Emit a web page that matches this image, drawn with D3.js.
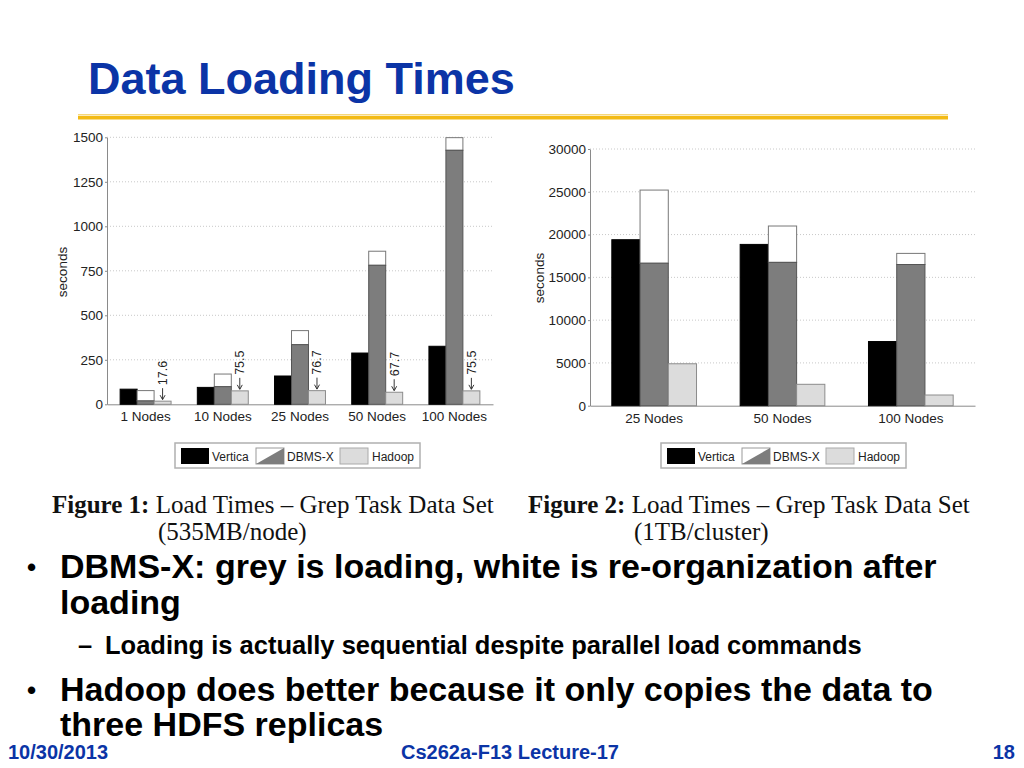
<!DOCTYPE html>
<html>
<head>
<meta charset="utf-8">
<script src="https://cdn.jsdelivr.net/npm/d3@7"></script>
<style>
body { margin: 0; background: #fff; }
svg { display: block; }
</style>
</head>
<body>
<div id="slide"></div>
<script>
// Figure 1: grep task, 535MB/node
var nodes1 = ["1 Nodes", "10 Nodes", "25 Nodes", "50 Nodes", "100 Nodes"];
var vertica1 = [85, 95, 159, 288, 326];
var dbmsLoad1 = [19, 99, 335, 781, 1427];
var dbmsReorg1 = [58, 71, 79, 79, 71];
var hadoop1 = [17.6, 75.5, 76.7, 67.7, 75.5];
var ticks1 = [0, 250, 500, 750, 1000, 1250, 1500];

// Figure 2: grep task, 1TB/cluster
var nodes2 = ["25 Nodes", "50 Nodes", "100 Nodes"];
var vertica2 = [19400, 18850, 7500];
var dbmsLoad2 = [16650, 16750, 16500];
var dbmsReorg2 = [8550, 4250, 1300];
var hadoop2 = [4900, 2500, 1250];
var ticks2 = [0, 5000, 10000, 15000, 20000, 25000, 30000];

var systems = ["Vertica", "DBMS-X", "Hadoop"];

var sans = "'Liberation Sans', Arial, Helvetica, sans-serif";
var serif = "'Liberation Serif', 'Times New Roman', serif";
var blue = "#0b34a6";

var svg = d3.select("#slide").append("svg")
    .attr("width", 1024).attr("height", 768)
    .style("font-family", sans);

// ---- title ----
svg.append("text")
    .attr("x", 88).attr("y", 94)
    .attr("font-size", 45).attr("font-weight", "bold")
    .attr("fill", blue)
    .text("Data Loading Times");

svg.append("rect").attr("x", 78).attr("y", 114).attr("width", 870).attr("height", 1.5).attr("fill", "#f6d77a");
svg.append("rect").attr("x", 78).attr("y", 116).attr("width", 870).attr("height", 3.5).attr("fill", "#f3ba14");

// ---- charts ----
function loadChart(o) {
    var g = svg.append("g");
    var rows = o.nodes.map((n, i) => ({
        node: n, vertica: o.vertica[i], load: o.load[i], reorg: o.reorg[i], hadoop: o.hadoop[i]
    }));

    var x = d3.scaleBand()
        .domain(o.nodes)
        .range([o.left, o.right])
        .paddingInner(0.34)
        .paddingOuter(0.17);
    var sx = d3.scaleBand().domain(systems).range([0, x.bandwidth()]);
    var y = d3.scaleLinear().domain([0, d3.max(o.ticks)]).range([o.bottom, o.top]);

    // dotted grid
    g.append("g").selectAll("line").data(o.ticks.slice(1)).join("line")
        .attr("x1", o.left).attr("x2", o.right)
        .attr("y1", d => y(d)).attr("y2", d => y(d))
        .attr("stroke", "#c8c8c8")
        .attr("stroke-dasharray", "1,2");

    g.append("g")
        .attr("transform", `translate(${o.left},0)`)
        .call(d3.axisLeft(y).tickValues(o.ticks).tickFormat(d3.format("d"))
            .tickSizeInner(2).tickSizeOuter(0).tickPadding(2))
        .call(a => a.selectAll("path,line").attr("stroke", "#8a8a8a"))
        .call(a => a.selectAll("text").attr("font-size", 13.5).attr("font-family", sans).attr("fill", "#222"));

    g.append("g")
        .attr("transform", `translate(0,${o.bottom})`)
        .call(d3.axisBottom(x).tickSize(0).tickPadding(7.6))
        .call(a => a.select(".domain").attr("stroke", "#8a8a8a"))
        .call(a => a.selectAll("text").attr("font-size", 13.5).attr("font-family", sans).attr("fill", "#222"));

    var grp = g.append("g").selectAll("g").data(rows).join("g")
        .attr("transform", d => `translate(${x(d.node)},0)`);

    grp.append("rect")
        .attr("x", sx("Vertica")).attr("width", sx.bandwidth())
        .attr("y", d => y(d.vertica)).attr("height", d => y(0) - y(d.vertica))
        .attr("fill", "#000").attr("stroke", "#000");

    grp.append("rect")
        .attr("x", sx("DBMS-X")).attr("width", sx.bandwidth())
        .attr("y", d => y(d.load + d.reorg)).attr("height", d => y(d.load) - y(d.load + d.reorg))
        .attr("fill", "#fff").attr("stroke", "#777");

    grp.append("rect")
        .attr("x", sx("DBMS-X")).attr("width", sx.bandwidth())
        .attr("y", d => y(d.load)).attr("height", d => y(0) - y(d.load))
        .attr("fill", "#7d7d7d").attr("stroke", "#555");

    grp.append("rect")
        .attr("x", sx("Hadoop")).attr("width", sx.bandwidth())
        .attr("y", d => y(d.hadoop)).attr("height", d => y(0) - y(d.hadoop))
        .attr("fill", "#dcdcdc").attr("stroke", "#8c8c8c");

    if (o.arrows) {
        var cx = sx("Hadoop") + sx.bandwidth() / 2;
        grp.append("line")
            .attr("x1", cx).attr("x2", cx)
            .attr("y1", d => y(d.hadoop) - 13).attr("y2", d => y(d.hadoop) - 2)
            .attr("stroke", "#222").attr("stroke-width", 0.9);
        grp.append("path")
            .attr("d", d => `M${cx - 2.5},${y(d.hadoop) - 6}L${cx},${y(d.hadoop) - 1.5}L${cx + 2.5},${y(d.hadoop) - 6}`)
            .attr("fill", "none").attr("stroke", "#222").attr("stroke-width", 0.9);
        grp.append("text")
            .attr("transform", d => `translate(${cx + 4.5},${y(d.hadoop) - 16}) rotate(-90)`)
            .attr("font-size", 12.5).attr("fill", "#222")
            .text(d => d3.format(".1f")(d.hadoop));
    }

    g.append("text")
        .attr("transform", `translate(${o.labelX},${o.labelY}) rotate(-90)`)
        .attr("text-anchor", "middle")
        .attr("font-size", 13.5).attr("fill", "#222")
        .text("seconds");

    legend(o.legendX, 443);
}

function legend(x0, y0) {
    var g = svg.append("g").attr("transform", `translate(${x0},${y0})`);
    g.append("rect").attr("width", 245).attr("height", 25)
        .attr("fill", "#fff").attr("stroke", "#b0b0b0").attr("stroke-width", 1.5);
    var sw = [6, 81, 165];
    var tx = [37, 112, 197];
    // vertica
    g.append("rect").attr("x", sw[0]).attr("y", 5).attr("width", 28).attr("height", 16).attr("fill", "#000");
    // dbms-x: white over grey, split on the diagonal
    g.append("rect").attr("x", sw[1]).attr("y", 5).attr("width", 28).attr("height", 16)
        .attr("fill", "#fff").attr("stroke", "#999");
    g.append("path").attr("d", `M${sw[1]},21L${sw[1] + 28},5L${sw[1] + 28},21Z`).attr("fill", "#7d7d7d");
    // hadoop
    g.append("rect").attr("x", sw[2]).attr("y", 5).attr("width", 28).attr("height", 16)
        .attr("fill", "#dcdcdc").attr("stroke", "#aaa");
    g.selectAll("text.lg").data(systems).join("text")
        .attr("class", "lg")
        .attr("x", (d, i) => tx[i]).attr("y", 17.5)
        .attr("font-size", 12).attr("fill", "#222")
        .text(d => d);
}

loadChart({
    nodes: nodes1, vertica: vertica1, load: dbmsLoad1, reorg: dbmsReorg1, hadoop: hadoop1,
    ticks: ticks1, left: 107, right: 493, top: 137.3, bottom: 404.3,
    arrows: true, labelX: 67, labelY: 272, legendX: 175
});

loadChart({
    nodes: nodes2, vertica: vertica2, load: dbmsLoad2, reorg: dbmsReorg2, hadoop: hadoop2,
    ticks: ticks2, left: 590, right: 975, top: 149, bottom: 405.7,
    arrows: false, labelX: 544, labelY: 278, legendX: 661
});

// ---- figure captions ----
function caption(x, num, sub) {
    var t = svg.append("text").attr("x", x).attr("y", 513)
        .attr("font-family", serif).attr("font-size", 25).attr("fill", "#111");
    t.append("tspan").attr("font-weight", "bold").text("Figure " + num + ":");
    t.append("tspan").text(" Load Times \u2013 Grep Task Data Set");
    svg.append("text").attr("x", x + 106).attr("y", 540)
        .attr("font-family", serif).attr("font-size", 25).attr("fill", "#111")
        .text(sub);
}
caption(52, 1, "(535MB/node)");
caption(528, 2, "(1TB/cluster)");

// ---- bullets ----
var body = svg.append("g").attr("font-weight", "bold").attr("fill", "#000");
body.append("text").attr("x", 27).attr("y", 576).attr("font-size", 26).text("\u2022");
body.append("text").attr("x", 60).attr("y", 578).attr("font-size", 34)
    .text("DBMS-X: grey is loading, white is re-organization after");
body.append("text").attr("x", 60).attr("y", 614).attr("font-size", 34).text("loading");
body.append("text").attr("x", 78).attr("y", 654).attr("font-size", 25.5).text("\u2013");
body.append("text").attr("x", 105).attr("y", 654).attr("font-size", 25.5)
    .text("Loading is actually sequential despite parallel load commands");
body.append("text").attr("x", 27).attr("y", 699).attr("font-size", 26).text("\u2022");
body.append("text").attr("x", 60).attr("y", 701).attr("font-size", 34)
    .text("Hadoop does better because it only copies the data to");
body.append("text").attr("x", 60).attr("y", 736).attr("font-size", 34).text("three HDFS replicas");

// ---- footer ----
var foot = svg.append("g").attr("font-weight", "bold").attr("font-size", 20).attr("fill", blue);
foot.append("text").attr("x", 8).attr("y", 759).text("10/30/2013");
foot.append("text").attr("x", 510).attr("y", 759).attr("text-anchor", "middle").text("Cs262a-F13 Lecture-17");
foot.append("text").attr("x", 1015).attr("y", 759).attr("text-anchor", "end").text("18");
</script>
</body>
</html>
